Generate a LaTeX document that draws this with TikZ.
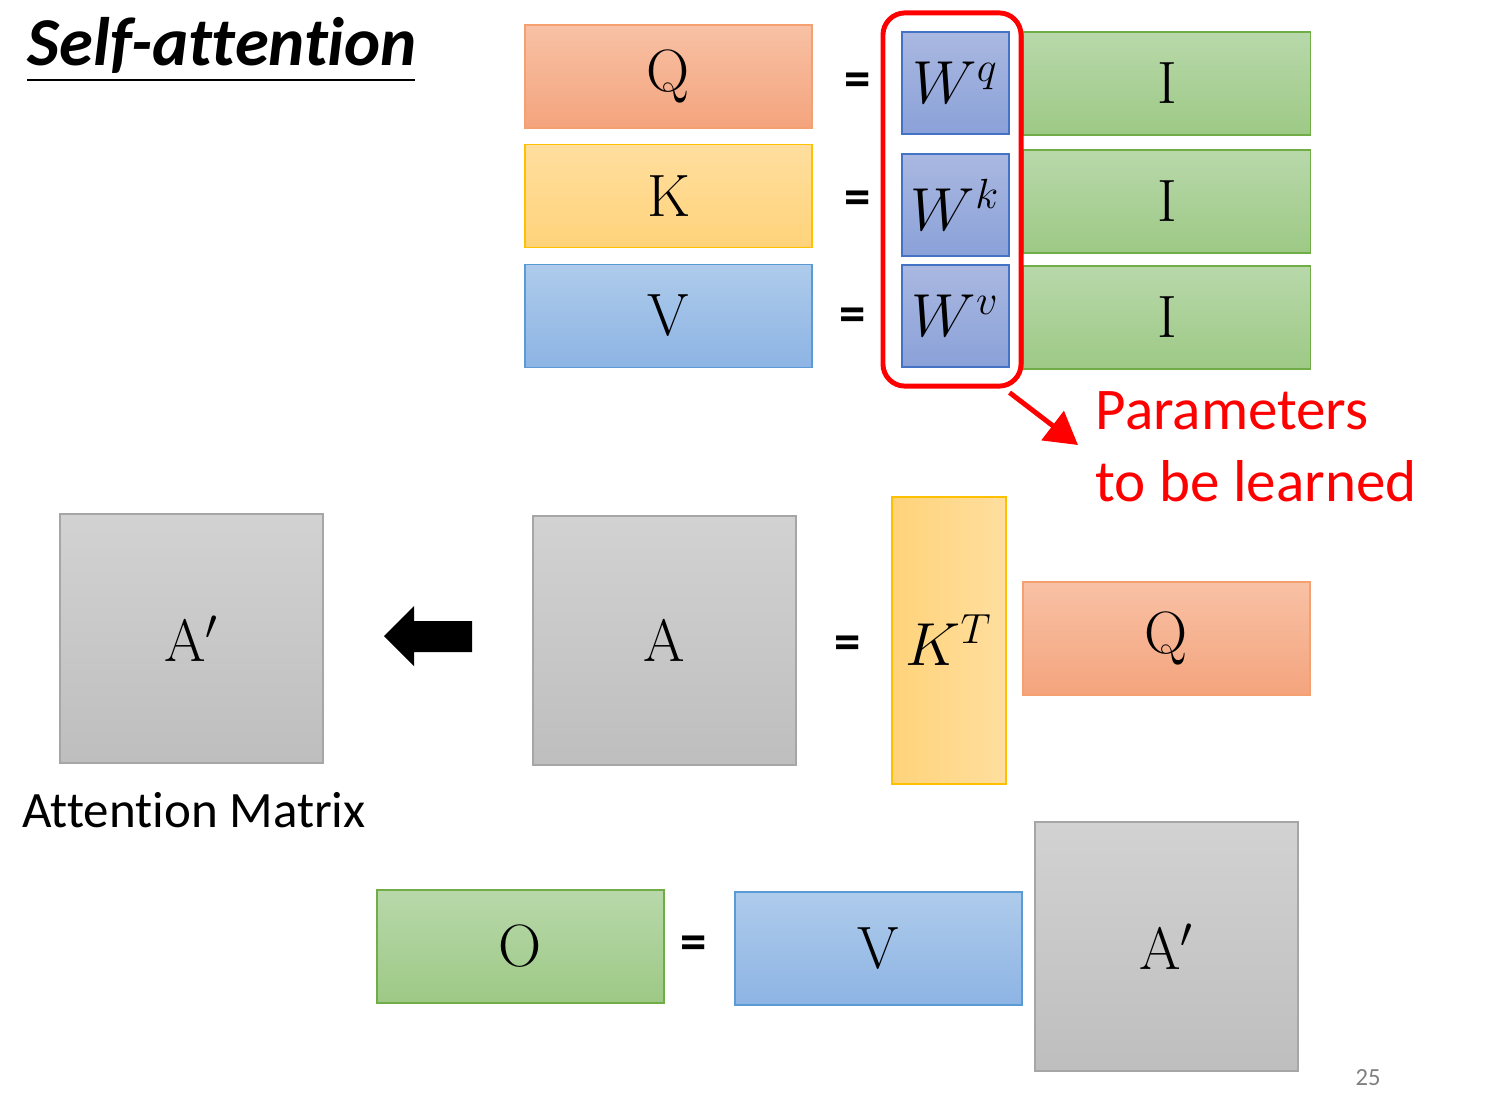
\documentclass[tikz,border=0pt]{standalone}
\usepackage{fontspec}
\setsansfont{Carlito}[Ligatures=NoCommon]
\usepackage{tikz}
\usetikzlibrary{arrows.meta,positioning}

\definecolor{qtop}{HTML}{F8C1A5}
\definecolor{qbot}{HTML}{F4A47D}
\definecolor{qline}{HTML}{F4A070}
\definecolor{ktop}{HTML}{FFDE9E}
\definecolor{kbot}{HTML}{FFD37A}
\definecolor{kline}{HTML}{FFC000}
\definecolor{vtop}{HTML}{AECBEB}
\definecolor{vbot}{HTML}{8DB4E4}
\definecolor{vline}{HTML}{5B9BD5}
\definecolor{wtop}{HTML}{AAB8E1}
\definecolor{wbot}{HTML}{8AA1D8}
\definecolor{wline}{HTML}{4472C4}
\definecolor{itop}{HTML}{B8D8AA}
\definecolor{ibot}{HTML}{9DC985}
\definecolor{iline}{HTML}{70AD47}
\definecolor{gtop}{HTML}{D2D2D2}
\definecolor{gbot}{HTML}{BEBEBE}
\definecolor{gline}{HTML}{A6A6A6}
\definecolor{pred}{HTML}{FF0000}

\tikzset{
    mat/.style={rectangle, draw, inner sep=0, line width=0.4pt, font=\rmfamily\fontsize{17}{20}\selectfont},
    qmat/.style={mat, draw=qline, top color=qtop, bottom color=qbot},
    kmat/.style={mat, draw=kline, top color=ktop, bottom color=kbot},
    vmat/.style={mat, draw=vline, top color=vtop, bottom color=vbot},
    wmat/.style={mat, draw=wline, top color=wtop, bottom color=wbot, minimum width=1.07cm, minimum height=1.02cm},
    imat/.style={mat, draw=iline, top color=itop, bottom color=ibot},
    gmat/.style={mat, draw=gline, top color=gtop, bottom color=gbot, minimum width=2.63cm, minimum height=2.49cm},
    wide/.style={minimum width=2.87cm, minimum height=1.03cm},
    wider/.style={minimum width=2.87cm, minimum height=1.13cm},
    eqsign/.style={font=\sffamily\bfseries\fontsize{15}{18}\selectfont, inner sep=0},
    redtext/.style={text=pred, font=\sffamily\fontsize{16.8}{20.5}\selectfont, align=left, inner sep=0},
}

\begin{document}
\begin{tikzpicture}[x=0.01cm, y=-0.01cm]
    \useasboundingbox (0,0) rectangle (1503,1111);

    % title
    \node[anchor=base west, inner sep=0, font=\sffamily\bfseries\itshape\fontsize{19.5}{22}\selectfont] (title) at (27,65) {Self-attention};
    \draw[line width=0.5pt] (27,80) -- (415,80);

    % Q K V = W I
    \node[qmat, wide] (q1) at (668.5,76.5) {Q};
    \node[kmat, wide] (k1) at (668.5,196) {K};
    \node[vmat, wide] (v1) at (668.5,316) {V};
    \node[eqsign] (eq1) at (858,85) {=};
    \node[eqsign] (eq2) at (858,203) {=};
    \node[eqsign] (eq3) at (853,320) {=};
    \node[wmat] (wq) at (955.5,83) {$W^q$};
    \node[wmat] (wk) at (955.5,205) {$W^k$};
    \node[wmat] (wv) at (955.5,316) {$W^v$};
    \node[imat, wide] (i1) at (1167,83.5) {I};
    \node[imat, wide] (i2) at (1167,201.5) {I};
    \node[imat, wide] (i3) at (1167,317.5) {I};

    % parameters to be learned
    \node[draw=pred, line width=1.4pt, rounded corners=0.22cm, minimum width=1.38cm, minimum height=3.73cm] (params) at (952,199.5) {};
    \node[redtext, anchor=north west] (lbl) at (1095,391) {Parameters\\to be learned};
    \coordinate (tip) at (1078,445);
    \draw[pred, line width=1.4pt, -{Triangle[length=3.2mm, width=3.6mm]}] ([shift={(-14,4)}]params.south east) -- (tip);

    % attention matrix
    \node[gmat] (ap) at (191.5,638.5) {$\mathrm{A}'$};
    \node[anchor=base west, inner sep=0, font=\sffamily\fontsize{14.5}{17}\selectfont] (attnlbl) at (22,827) {Attention Matrix};
    \fill (384,636) -- (414,606) -- (414,621) -- (472,621) -- (472,652) -- (414,652) -- (414,666) -- cycle;
    \node[gmat] (a) at (664.5,640.5) {A};
    \node[eqsign] (eq4) at (848,648) {=};
    \node[mat, draw=kline, left color=kbot, right color=ktop, minimum width=1.14cm, minimum height=2.87cm] (kt) at (949,640.5) {$K^T$};
    \node[qmat, wider] (q2) at (1166.5,638.5) {Q};

    % output
    \node[imat, wider] (o) at (520.5,946.5) {O};
    \node[eqsign] (eq5) at (694,948) {=};
    \node[vmat, wider] (v2) at (878.5,948.5) {V};
    \node[gmat] (ap2) at (1166.5,946.5) {$\mathrm{A}'$};

    \node[text=gray, font=\sffamily\fontsize{7}{8}\selectfont] (page) at (1368,1078) {25};
\end{tikzpicture}
\end{document}
